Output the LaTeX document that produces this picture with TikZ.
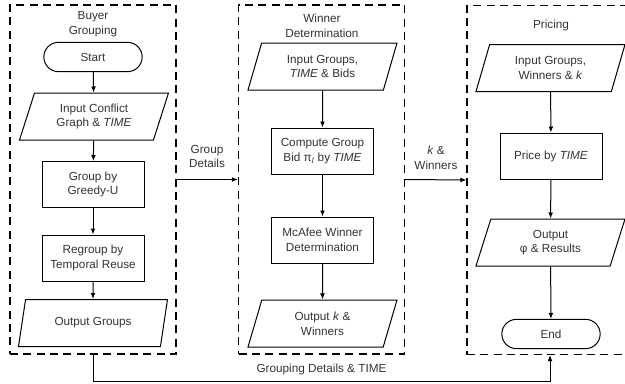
\documentclass[tikz,border=0pt]{standalone}
\usepackage{fontspec}
\setmainfont{Liberation Sans}
\usetikzlibrary{shapes.geometric,shapes.misc,arrows.meta}
\tikzset{
  stagebox/.style={draw, line width=0.9pt, dash pattern=on 6pt off 4pt, minimum width=124.5pt, minimum height=261.75pt, inner sep=0pt},
  procbox/.style={draw, line width=0.75pt, minimum width=76.5pt, minimum height=34.5pt, align=center, inner sep=1pt},
  termbox/.style={draw, line width=0.75pt, rounded rectangle, minimum width=75.75pt, minimum height=22pt, inner sep=1pt},
  iobox/.style={draw, line width=0.75pt, trapezium, trapezium left angle=62, trapezium right angle=118, trapezium stretches body, minimum width=111.75pt, minimum height=35.25pt, align=center, inner sep=1pt},
  flow/.style={line width=0.75pt, -{Latex[length=4.5pt,width=3.6pt]}},
  lbl/.style={align=center, inner sep=1pt}
}

\begin{document}
\begin{tikzpicture}[x=0.75pt, y=-0.75pt, font=\fontsize{8.8}{11}\selectfont, text=black!80]
  \useasboundingbox (0,0) rectangle (625,383);
  \clip (0,0) rectangle (625,383);

  % stages
  \node[stagebox] (bg) at (93,179.5) {};
  \node[stagebox] (wd) at (321.5,179.5) {};
  \node[stagebox] (pr) at (550,180) {};
  \node[lbl] (bgtitle) at (93,24) {Buyer\\Grouping};
  \node[lbl] (wdtitle) at (322,26) {Winner\\Determination};
  \node[lbl] (prtitle) at (551,25) {Pricing};

  % buyer grouping
  \node[termbox] (start) at (93,57) {Start};
  \node[iobox] (inconf) at (94,116.5) {Input Conflict\\Graph \& \textit{TIME}};
  \node[procbox] (greedy) at (93,184.5) {Group by\\Greedy-U};
  \node[procbox] (regroup) at (93,258) {Regroup by\\Temporal Reuse};
  \node[iobox] (outgrp) at (93,323) {Output Groups};

  % winner determination
  \node[iobox] (ingrp) at (322.5,66.5) {Input Groups,\\\textit{TIME} \& Bids};
  \node[procbox] (bid) at (322.5,151) {Compute Group\\Bid π\textsubscript{\textit{l}} by \textit{TIME}};
  \node[procbox] (mcafee) at (322.5,240) {McAfee Winner\\Determination};
  \node[iobox] (outwin) at (322.5,323.5) {Output \textit{k} \&\\Winners};

  % pricing
  \node[iobox] (inwin) at (550.5,68) {Input Groups,\\Winners \& \textit{k}};
  \node[procbox] (price) at (551,156) {Price by \textit{TIME}};
  \node[iobox] (outphi) at (550.5,242.5) {Output\\φ \& Results};
  \node[termbox] (endn) at (551,334) {End};

  \draw[flow] (start) -- (inconf);
  \draw[flow] (inconf) -- (greedy);
  \draw[flow] (greedy) -- (regroup);
  \draw[flow] (regroup) -- (outgrp);
  \draw[flow] (ingrp) -- (bid);
  \draw[flow] (bid) -- (mcafee);
  \draw[flow] (mcafee) -- (outwin);
  \draw[flow] (inwin) -- (price);
  \draw[flow] (price) -- (outphi);
  \draw[flow] (outphi) -- (endn);

  % between stages
  \draw[flow] (bg.east) -- (wd.west);
  \node[lbl] (grpdet) at (207,156.5) {Group\\Details};
  \draw[flow] (wd.east) -- (pr.west);
  \node[lbl] (kwin) at (436,158) {\textit{k} \&\\Winners};
  \draw[flow] (bg.south) -- ++(0,27) -| node[pos=0.25, above=1pt] {Grouping Details \& TIME} (pr.south);
\end{tikzpicture}
\end{document}
